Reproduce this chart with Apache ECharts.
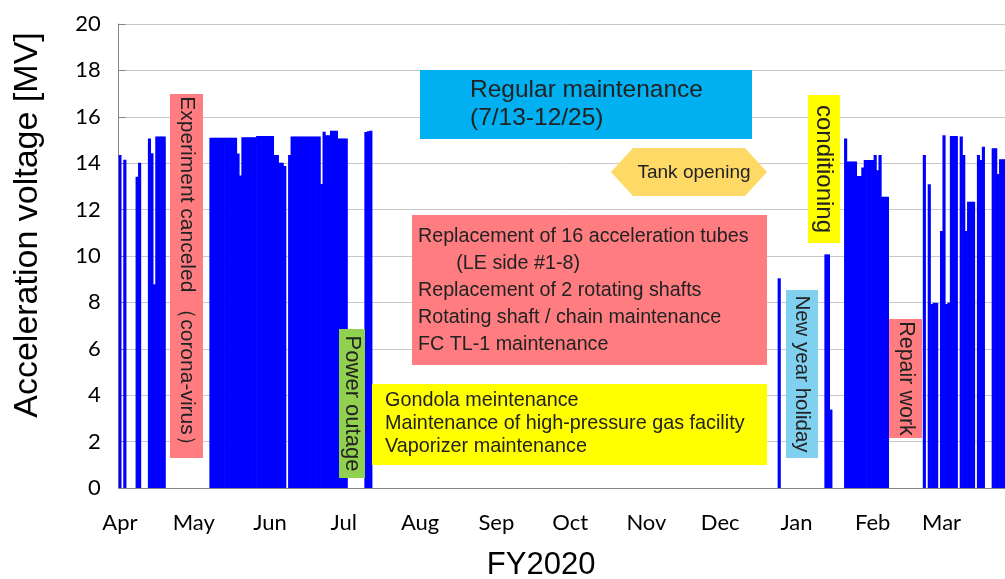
<!DOCTYPE html>
<html>
<head>
<meta charset="utf-8">
<script src="https://cdn.jsdelivr.net/npm/echarts@6/dist/echarts.min.js"></script>
<style>
  html, body { margin: 0; padding: 0; background: #fff; }
  #chart { width: 1005px; height: 579px; }
</style>
</head>
<body>
<div id="chart"></div>
<script>
// FY2020 runs Apr 2020 - Mar 2021
const monthNames = ['Apr', 'May', 'Jun', 'Jul', 'Aug', 'Sep', 'Oct', 'Nov', 'Dec', 'Jan', 'Feb', 'Mar'];
const monthDays = [30, 31, 30, 31, 31, 30, 31, 30, 31, 31, 28, 31];

// daily acceleration voltage [MV], 0 = no beam that day
const apr = [14.35, 0, 14.15, 0, 0, 0, 0, 13.42, 14.02, 0, 0, 0, 15.07, 14.43, 8.78, 15.15, 15.15, 15.15, 15.15,
  0, 0, 0, 0, 0, 0, 0, 0, 0, 0, 0];
const may = [0, 0, 0, 0, 0, 0, 0, 15.1, 15.1, 15.1, 15.1, 15.1, 15.1, 15.1, 15.1, 15.1, 15.1, 15.1,
  14.42, 13.47, 15.12, 15.12, 15.12, 15.12, 15.12, 15.12, 15.17, 15.17, 15.17, 15.17, 15.17];
const jun = [15.17, 15.17, 14.35, 14.35, 14.02, 14.02, 13.88, 0, 14.35,
  15.15, 15.15, 15.15, 15.15, 15.15, 15.15, 15.15, 15.15, 15.15, 15.15, 15.15, 15.15,
  13.1, 15.36, 15.2, 15.2, 15.4, 15.4, 15.4, 15.07, 15.07];
const jul = [15.07, 15.07, 0, 0, 0, 0, 0, 0, 0, 15.35, 15.38, 15.4,
  0, 0, 0, 0, 0, 0, 0, 0, 0, 0, 0, 0, 0, 0, 0, 0, 0, 0, 0];
const aug = [0, 0, 0, 0, 0, 0, 0, 0, 0, 0, 0, 0, 0, 0, 0, 0, 0, 0, 0, 0, 0, 0, 0, 0, 0, 0, 0, 0, 0, 0, 0];
const sep = [0, 0, 0, 0, 0, 0, 0, 0, 0, 0, 0, 0, 0, 0, 0, 0, 0, 0, 0, 0, 0, 0, 0, 0, 0, 0, 0, 0, 0, 0];
const oct = [0, 0, 0, 0, 0, 0, 0, 0, 0, 0, 0, 0, 0, 0, 0, 0, 0, 0, 0, 0, 0, 0, 0, 0, 0, 0, 0, 0, 0, 0, 0];
const nov = [0, 0, 0, 0, 0, 0, 0, 0, 0, 0, 0, 0, 0, 0, 0, 0, 0, 0, 0, 0, 0, 0, 0, 0, 0, 0, 0, 0, 0, 0];
const dec = [0, 0, 0, 0, 0, 0, 0, 0, 0, 0, 0, 0, 0, 0, 0, 0, 0, 0, 0, 0, 0, 0, 0, 0, 9.04, 0, 0, 0, 0, 0, 0];
const jan = [0, 0, 0, 0, 0, 0, 0, 0, 0, 0, 0, 0, 10.07, 10.07, 3.38, 0, 0, 0, 0, 0,
  15.07, 14.07, 14.07, 14.07, 14.07, 13.45, 13.45, 13.82, 14.14, 14.14, 14.14];
const feb = [14.14, 14.35, 13.7, 14.35, 12.55, 12.55, 12.55,
  0, 0, 0, 0, 0, 0, 0, 0, 0, 0, 0, 0, 0, 0,
  14.35, 0, 13.09, 7.93, 7.98, 7.98, 0];
// the source picture is cut off after Mar 27
const mar = [11.08, 15.2, 7.93, 7.99, 15.17, 15.17, 15.17, 0, 15.15, 14.35, 11.08, 12.34, 12.34, 12.34, 0,
  14.35, 14.14, 14.71, 0, 0, 0, 14.64, 14.64, 13.53, 14.17, 14.17, 14.17];

const voltage = [].concat(apr, may, jun, jul, aug, sep, oct, nov, dec, jan, feb, mar);

// one category per day, e.g. "Apr-1"
const days = [];
monthNames.forEach((m, i) => {
  for (let d = 1; d <= monthDays[i]; d++) days.push(m + '-' + d);
});
const isMonthStart = (idx, val) => val.endsWith('-1');

const chart = echarts.init(document.getElementById('chart'));

const pink = '#ff7c80';
const txt = '#222';
const sans = 'Liberation Sans';

// vertical label helper (reads top to bottom)
function vLabel(x, y, w, h, fill, text, size) {
  return [
    { type: 'rect', z: 10, shape: { x: x, y: y, width: w, height: h }, style: { fill: fill } },
    {
      type: 'text', z: 11, x: x + w / 2, y: y + h / 2, rotation: -Math.PI / 2,
      style: { text: text, font: size + 'px ' + sans, fill: txt, align: 'center', verticalAlign: 'middle' }
    }
  ];
}

const option = {
  animation: false,
  grid: { left: 118.7, top: 24, width: 897.9, height: 464, containLabel: false, outerBoundsMode: 'none' },
  xAxis: {
    type: 'category',
    data: days,
    boundaryGap: true,
    name: 'FY2020',
    nameLocation: 'middle',
    nameGap: 62,
    nameTextStyle: { fontSize: 31, fontFamily: sans, color: '#000', padding: [0, 53, 0, 0] },
    axisLine: { lineStyle: { color: '#868686', width: 1 } },
    axisTick: { interval: isMonthStart, length: 8, lineStyle: { color: '#868686' } },
    axisLabel: {
      interval: isMonthStart,
      formatter: v => v.split('-')[0],
      fontSize: 22, fontFamily: 'Lato', color: '#000', margin: 24
    },
    splitLine: { show: false }
  },
  yAxis: {
    type: 'value',
    min: 0, max: 20, interval: 2,
    name: 'Acceleration voltage [MV]',
    nameLocation: 'middle',
    nameGap: 74,
    nameTextStyle: { fontSize: 34, fontFamily: sans, color: '#000', padding: [0, 0, 0, 62] },
    axisLine: { show: true, lineStyle: { color: '#868686' } },
    axisTick: { show: true, inside: true, length: 7, lineStyle: { color: '#868686' } },
    axisLabel: { fontSize: 22, fontFamily: 'Lato', color: '#000', margin: 18 },
    splitLine: { lineStyle: { color: '#c8c8c8' } }
  },
  series: [{
    type: 'bar',
    // days without operation are left empty
    data: voltage.map(v => (v === 0 ? '-' : v)),
    barWidth: '128%',
    silent: true,
    itemStyle: { color: '#0000ff' }
  }],
  graphic: [].concat(
    vLabel(170, 94, 33, 364, pink, 'Experiment canceled （corona-virus）', 21),
    vLabel(339, 329, 26, 149, '#92d050', 'Power outage', 22),
    vLabel(808, 95, 32, 148, '#ffff00', 'conditioning', 24),
    vLabel(786, 290, 32, 168, '#7fd1ef', 'New year holiday', 20.5),
    vLabel(889, 319, 33, 119, pink, 'Repair work', 21.5),
    [
      { type: 'rect', z: 10, shape: { x: 420, y: 70, width: 332, height: 69 }, style: { fill: '#00b0f0' } },
      {
        type: 'text', z: 11, x: 470, y: 104,
        style: { text: 'Regular maintenance\n(7/13-12/25)', font: '24.5px ' + sans, lineHeight: 28, fill: txt, align: 'left', verticalAlign: 'middle' }
      },
      {
        type: 'polygon', z: 10,
        shape: { points: [[611, 172], [633, 148], [745, 148], [767, 172], [745, 196], [633, 196]] },
        style: { fill: '#ffd966' }
      },
      {
        type: 'text', z: 11, x: 694, y: 173,
        style: { text: 'Tank opening', font: '19px ' + sans, fill: txt, align: 'center', verticalAlign: 'middle' }
      },
      { type: 'rect', z: 10, shape: { x: 412, y: 215, width: 355, height: 150 }, style: { fill: pink } },
      {
        type: 'text', z: 11, x: 418, y: 291,
        style: {
          text: 'Replacement of 16 acceleration tubes\n       (LE side #1-8)\nReplacement of 2 rotating shafts\nRotating shaft / chain maintenance\nFC TL-1 maintenance',
          font: '19.7px ' + sans, lineHeight: 27, fill: txt, align: 'left', verticalAlign: 'middle'
        }
      },
      { type: 'rect', z: 10, shape: { x: 372, y: 384, width: 395, height: 81 }, style: { fill: '#ffff00' } },
      {
        type: 'text', z: 11, x: 385, y: 424,
        style: {
          text: 'Gondola meintenance\nMaintenance of high-pressure gas facility\nVaporizer maintenance',
          font: '19.8px ' + sans, lineHeight: 23, fill: txt, align: 'left', verticalAlign: 'middle'
        }
      }
    ]
  )
};

chart.setOption(option);
</script>
</body>
</html>
